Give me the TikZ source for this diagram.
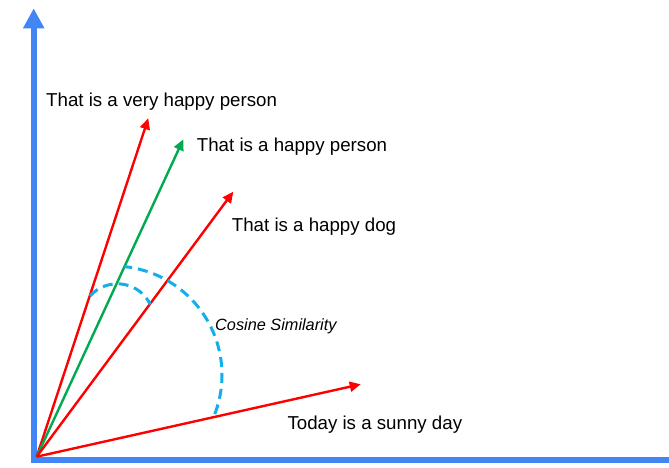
\documentclass[tikz,border=0pt]{standalone}
\usepackage{fontspec}
\setmainfont{Liberation Sans}
\usetikzlibrary{arrows.meta}
\definecolor{axisblue}{RGB}{66,133,244}
\definecolor{vecred}{RGB}{255,0,0}
\definecolor{vecgreen}{RGB}{0,170,80}
\definecolor{arcblue}{RGB}{20,174,235}
\tikzset{
  axisline/.style={axisblue, line width=6pt, line join=miter, -{Triangle[length=20pt,width=20pt]}},
  vecline/.style={line width=2.4pt, -{Triangle[length=11pt,width=10pt]}},
  simarc/.style={arcblue, line width=3pt, dash pattern=on 10pt off 6pt},
  label/.style={anchor=base west, inner sep=0pt, font=\fontsize{18.7pt}{22pt}\selectfont},
  arclabel/.style={anchor=base west, inner sep=0pt, font=\fontsize{16.3pt}{19pt}\selectfont\itshape}
}
\begin{document}
\begin{tikzpicture}[x=1pt,y=1pt]
\useasboundingbox (0,0) rectangle (669,468);
% axes
\coordinate (xend) at (672,7.5);
\coordinate (corner) at (33.7,7.5);
\coordinate (ytip) at (33.7,459.7);
\draw[axisline] (xend) -- (corner) -- (ytip);
% vectors
\coordinate (O) at (36.7,11.3);
\coordinate (A) at (148.3,349.7);
\coordinate (B) at (183.3,328.7);
\coordinate (C) at (233.3,276.3);
\coordinate (D) at (360.7,83.7);
\draw[vecline, vecred] (O) -- (A);
\draw[vecline, vecgreen] (O) -- (B);
\draw[vecline, vecred] (O) -- (C);
\draw[vecline, vecred] (O) -- (D);
% similarity arcs
\coordinate (bigc) at (113,93);
\coordinate (smallc) at (117.3,147.5);
\draw[simarc] ([shift={(-21:109pt)}]bigc) arc[start angle=-21, end angle=84, radius=109pt];
\draw[simarc] ([shift={(138:36.7pt)}]smallc) arc[start angle=138, end angle=26, radius=36.7pt];
% labels
\node[label] (tA) at (46,361.3) {That is a very happy person};
\node[label] (tB) at (196.7,316.3) {That is a happy person};
\node[label] (tC) at (231.7,236.3) {That is a happy dog};
\node[label] (tD) at (287.3,38.5) {Today is a sunny day};
\node[arclabel] (tS) at (215,137.7) {Cosine Similarity};
\end{tikzpicture}
\end{document}
